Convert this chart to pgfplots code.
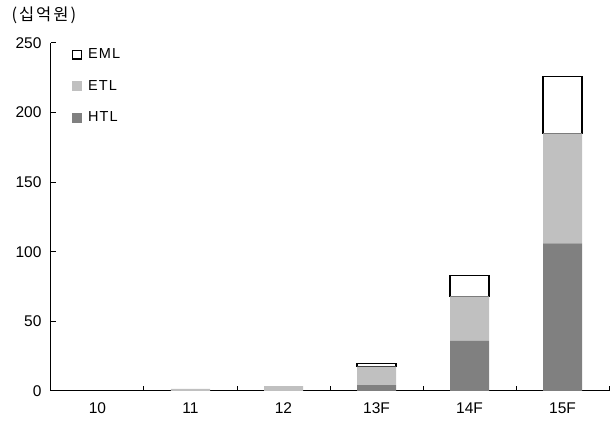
\documentclass[border=0pt]{standalone}
\usepackage{pgfplots}
\pgfplotsset{compat=1.18}
\usepackage{fontspec}
\setmainfont{Liberation Sans}
\newfontfamily\spaced[LetterSpace=8]{Liberation Sans}
\newfontfamily\krfont[LetterSpace=12]{Noto Sans CJK KR}
\definecolor{htl}{HTML}{808080}
\definecolor{etl}{HTML}{C0C0C0}

\begin{document}
\begin{tikzpicture}
\begin{axis}[
    at={(0,0)}, anchor=south west,
    scale only axis,
    width=558pt, height=348pt,
    ybar stacked,
    bar width=39pt,
    xmin=-0.5, xmax=5.5,
    ymin=0, ymax=250,
    axis x line*=bottom, axis y line*=left,
    axis line style={line width=1pt, -},
    xtick={-0.5,0.5,...,5.5},
    x tick label as interval,
    xticklabels={10,11,12,13F,14F,15F},
    ytick={0,50,...,250},
    tick align=inside,
    major tick length=5pt,
    tick style={line width=1pt, black},
    xticklabel style={yshift=-8pt},
    yticklabel style={xshift=-6pt},
    tick label style={font=\fontsize{15.5}{17}\selectfont},
    /pgf/number format/assume math mode=true,
    legend style={draw=none, fill=none, at={(0.032,0.995)}, anchor=north west,
        font=\spaced\fontsize{14.5}{16}\selectfont, row sep=16pt,
        /tikz/every odd column/.style={column sep=4pt}},
    legend cell align=left,
    reverse legend,
]
\addplot[fill=htl, draw=none,
    legend image code/.code={\fill[htl] (0pt,-5pt) rectangle (10pt,5pt);}]
    coordinates {(0,0) (1,0) (2,0) (3,4.3) (4,36) (5,106)};
\addlegendentry{HTL}
\addplot[fill=etl, draw=none,
    legend image code/.code={\fill[etl] (0pt,-5pt) rectangle (10pt,5pt);}]
    coordinates {(0,0) (1,1.5) (2,3.5) (3,13.2) (4,32) (5,79)};
\addlegendentry{ETL}
\addplot[fill=white, draw=black, line width=1.2pt,
    legend image code/.code={\draw[black, line width=1.2pt, fill=white] (0.6pt,-4.4pt) rectangle (9.4pt,4.4pt);}]
    coordinates {(0,0) (1,0) (2,0) (3,2.4) (4,15) (5,41)};
\addlegendentry{EML}
\end{axis}
\node[anchor=west, font=\krfont\fontsize{16.5}{18}\selectfont] at (-43pt,376pt) {(십억원)};
\pgfresetboundingbox
\useasboundingbox (-51pt,-36pt) rectangle (562pt,391pt);
\end{tikzpicture}
\end{document}
